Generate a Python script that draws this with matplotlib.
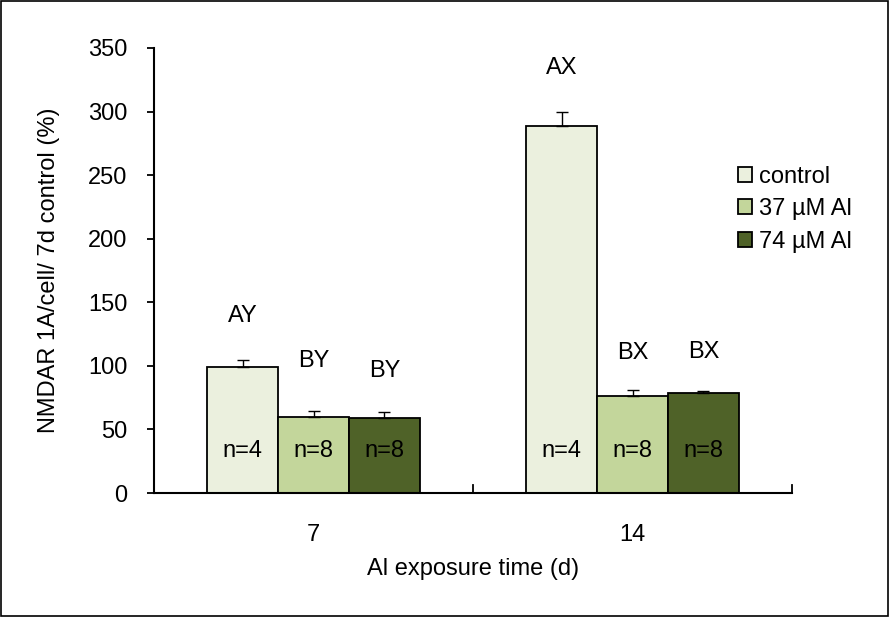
import numpy as np
import matplotlib.pyplot as plt
from matplotlib.patches import Rectangle

# data
days = ['7', '14']
series = ['control', '37 µM Al', '74 µM Al']
values = [[99, 288.5],
          [60, 76],
          [59, 78.5]]
errors = [[6, 11.5],
          [4.5, 5],
          [5, 1.5]]
letters = [['AY', 'AX'],
           ['BY', 'BX'],
           ['BY', 'BX']]
letter_y = [[139, 334],
            [104, 110],
            [96, 111]]
n_labels = [['n=4', 'n=4'],
            ['n=8', 'n=8'],
            ['n=8', 'n=8']]
colors = ['#ebf0de', '#c3d69b', '#4f6228']

plt.rcParams['font.family'] = ['Liberation Sans', 'DejaVu Sans']
fs = 17

fig = plt.figure(figsize=(8.9, 6.17), dpi=100)
ax = fig.add_axes([154/890, 1-493/617, (792-154)/890, (493-48)/617])

x = np.arange(len(days))
w = 0.222
for i, s in enumerate(series):
    xi = x + (i-1)*w
    ax.bar(xi, values[i], w, color=colors[i], edgecolor='black', linewidth=1.3,
           label=s, zorder=2)
    ax.errorbar(xi, values[i], yerr=[np.zeros(len(days)), errors[i]], fmt='none',
                ecolor='black', elinewidth=1, capsize=4, capthick=1, zorder=3)
    for j in range(len(days)):
        ax.text(xi[j], letter_y[i][j], letters[i][j], ha='center', va='center', fontsize=fs)
        ax.text(xi[j], 33, n_labels[i][j], ha='center', va='center', fontsize=fs,
                color='black', zorder=4)

ax.set_xlim(-0.5, 1.5)
ax.set_ylim(0, 350)
ax.set_yticks(np.arange(0, 351, 50))
ax.set_xticks(x)
ax.set_xticklabels(days)
ax.tick_params(axis='x', length=0, labelsize=fs, pad=22)
ax.tick_params(axis='y', length=5, width=1.3, direction='out', labelsize=fs, pad=14)
# category boundary ticks (inward)
for b in [0.5, 1.5]:
    ax.plot([b, b], [0, 6], color='black', lw=1.3, clip_on=False, zorder=5)

for sp in ['top', 'right']:
    ax.spines[sp].set_visible(False)
for sp in ['left', 'bottom']:
    ax.spines[sp].set_linewidth(1.5)

ax.set_xlabel('Al exposure time (d)', fontsize=fs, labelpad=9)
ax.set_ylabel('NMDAR 1A/cell/ 7d control (%)', fontsize=fs, labelpad=20)

leg = ax.legend(loc='upper left', bbox_to_anchor=(0.9, 0.757), frameon=False,
                fontsize=fs, handlelength=0.6, handleheight=0.6,
                handletextpad=0.3, labelspacing=0.45, borderaxespad=0)

fig.patches.append(Rectangle((0.001, 0.002), 0.997, 0.996, transform=fig.transFigure,
                             fill=False, edgecolor='black', linewidth=1.2))

fig.savefig('out.png', dpi=100)
